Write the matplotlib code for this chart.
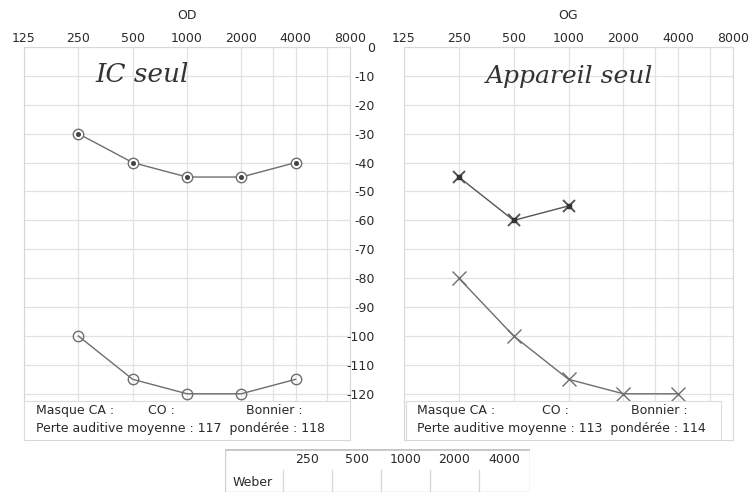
import matplotlib
matplotlib.use("Agg")
import matplotlib.pyplot as plt
from matplotlib.patches import Rectangle

plt.rcParams["axes.unicode_minus"] = False

# Audiogram data (dB, drawn as negative hearing level)
freq_ticks = [125, 250, 500, 1000, 2000, 4000, 8000]
freq_tick_labels = ["125", "250", "500", "1000", "2000", "4000", "8000"]
extra_grid_freqs = [3000, 6000]
level_ticks = list(range(0, -130, -10))

freqs_od = [250, 500, 1000, 2000, 4000]
od_aided = [-30, -40, -45, -45, -40]
od_unaided = [-100, -115, -120, -120, -115]

freqs_og_aided = [250, 500, 1000]
og_aided = [-45, -60, -55]
freqs_og = [250, 500, 1000, 2000, 4000]
og_unaided = [-80, -100, -115, -120, -120]

od_mean, od_weighted = 117, 118
og_mean, og_weighted = 113, 114

weber_freqs = ["250", "500", "1000", "2000", "4000"]

W, H = 752, 493
fig = plt.figure(figsize=(W / 100, H / 100), dpi=100)
fig.patch.set_facecolor("white")

TXT = "#2a2a2a"
LINE = "#6e6e6e"
GRID = "#e2e2e2"
FRAME = "#d8d8d8"


def px_axes(x0, x1, y0, y1):
    return fig.add_axes([x0 / W, 1 - y1 / H, (x1 - x0) / W, (y1 - y0) / H])


def setup_panel(ax, title, show_y):
    ax.set_xscale("log", base=2)
    ax.set_xlim(125, 8000)
    ax.set_ylim(-136, 0)
    ax.set_xticks(freq_ticks)
    ax.set_xticklabels(freq_tick_labels)
    ax.set_xticks([], minor=True)
    ax.xaxis.tick_top()
    ax.tick_params(axis="x", which="both", length=0, pad=1.5, labelsize=9, labelcolor=TXT)
    ax.set_yticks(level_ticks)
    if show_y:
        ax.tick_params(axis="y", length=0, pad=21, labelsize=9, labelcolor=TXT)
    else:
        ax.tick_params(axis="y", length=0, labelleft=False)
    for f in freq_ticks + extra_grid_freqs:
        ax.axvline(f, color=GRID, lw=0.9, zorder=0)
    for lv in level_ticks:
        ax.axhline(lv, color=GRID, lw=0.9, zorder=0)
    for s in ax.spines.values():
        s.set_color(FRAME)
        s.set_linewidth(0.8)
    ax.set_title(title, fontsize=9, color=TXT, pad=20)


# Right ear (OD)
ax_od = px_axes(24, 350, 47, 440)
setup_panel(ax_od, "OD", False)
ax_od.plot(freqs_od, od_aided, color=LINE, lw=1.0, marker="o", ms=7.5,
           mfc="white", mec=LINE, mew=1.0, zorder=3)
ax_od.plot(freqs_od, od_aided, ls="none", marker="o", ms=2.6, color="#444444", zorder=4)
ax_od.plot(freqs_od, od_unaided, color=LINE, lw=1.0, marker="o", ms=7.5,
           mfc="none", mec=LINE, mew=1.0, zorder=3)

# Left ear (OG)
ax_og = px_axes(404, 733, 47, 440)
setup_panel(ax_og, "OG", True)
ax_og.plot(freqs_og_aided, og_aided, color="#555555", lw=1.0, marker="x", ms=9,
           mec="#555555", mew=1.4, zorder=3)
ax_og.plot(freqs_og_aided, og_aided, ls="none", marker="s", ms=3, color="#333333", zorder=4)
ax_og.plot(freqs_og, og_unaided, color=LINE, lw=1.0, marker="x", ms=10,
           mec=LINE, mew=1.0, zorder=3)

# Summary boxes at the bottom of each panel
for ax, x0, x1, mean, weighted, xs in [
    (ax_od, 0.0, 1.0, od_mean, od_weighted, (0.036, 0.38, 0.68)),
    (ax_og, 0.006, 0.963, og_mean, og_weighted, (0.04, 0.42, 0.69)),
]:
    ax.add_patch(Rectangle((x0, 0.0), x1 - x0, 0.1, transform=ax.transAxes,
                           facecolor="white", edgecolor="#dcdcdc", lw=0.8, zorder=5))
    ax.text(xs[0], 0.074, "Masque CA :", transform=ax.transAxes, fontsize=9,
            color=TXT, va="center", ha="left", zorder=6)
    ax.text(xs[1], 0.074, "CO :", transform=ax.transAxes, fontsize=9,
            color=TXT, va="center", ha="left", zorder=6)
    ax.text(xs[2], 0.074, "Bonnier :", transform=ax.transAxes, fontsize=9,
            color=TXT, va="center", ha="left", zorder=6)
    ax.text(xs[0], 0.03, f"Perte auditive moyenne : {mean}  pondérée : {weighted}",
            transform=ax.transAxes, fontsize=9, color=TXT, va="center",
            ha="left", zorder=6)

# Handwritten notes
ax_od.text(0.22, 0.93, "IC seul", transform=ax_od.transAxes, fontsize=19,
           family="DejaVu Serif", style="italic", color="#333333", va="center")
ax_og.text(0.25, 0.925, "Appareil seul", transform=ax_og.transAxes, fontsize=18,
           family="DejaVu Serif", style="italic", color="#333333", va="center")

# Weber table
tx0, tx1, ty0, ty1 = 225, 530, 449, 492
tab = px_axes(tx0, tx1, ty0, ty1)
tab.set_xlim(tx0, tx1)
tab.set_ylim(ty1, ty0)
tab.axis("off")
col_edges = [225, 283, 332, 381, 430, 479, 530]
row_mid = 470
tab.add_patch(Rectangle((tx0, ty0), tx1 - tx0, ty1 - ty0, facecolor="white",
                        edgecolor="#cfcfcf", lw=1.0))
tab.plot([tx0, tx1], [ty0 + 1, ty0 + 1], color="#c4c4c4", lw=1.2)
for xe in col_edges[1:-1]:
    tab.plot([xe, xe], [row_mid, ty1], color="#d6d6d6", lw=0.9)
for lab, a, b in zip(weber_freqs, col_edges[1:-1], col_edges[2:]):
    tab.text((a + b) / 2, 459, lab, fontsize=9, color=TXT, ha="center", va="center")
tab.text(233, 482, "Weber", fontsize=9, color=TXT, ha="left", va="center")

fig.savefig("out.png", dpi=100, facecolor="white")
